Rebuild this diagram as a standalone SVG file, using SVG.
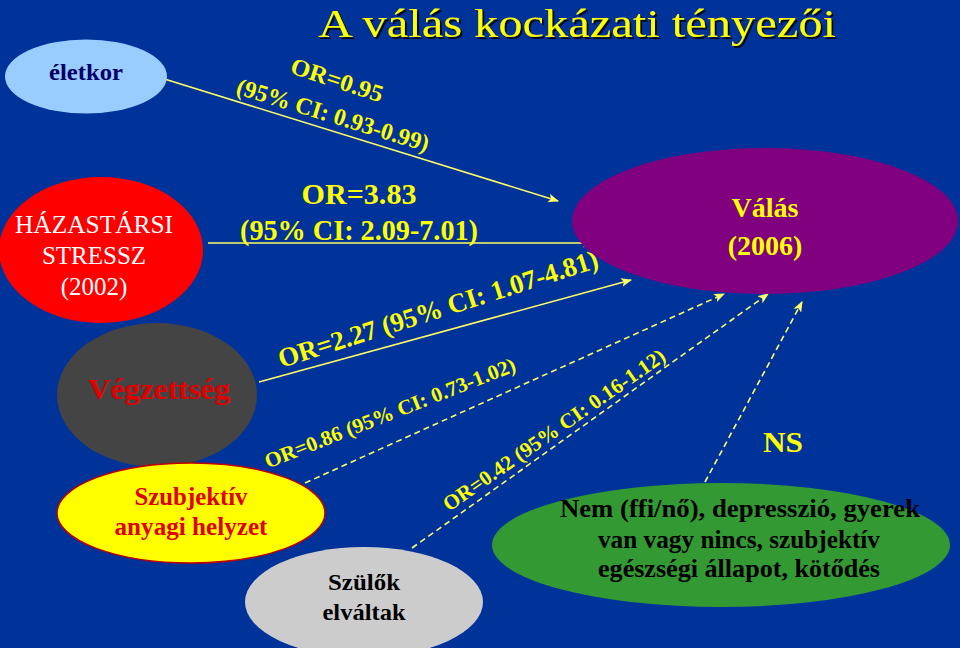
<svg xmlns="http://www.w3.org/2000/svg" width="960" height="648" viewBox="0 0 960 648" font-family="'Liberation Serif','Times New Roman','DejaVu Serif',serif">
<defs>
<marker id="arr" viewBox="0 0 10 8" refX="9" refY="4" markerWidth="11" markerHeight="9" markerUnits="userSpaceOnUse" orient="auto">
<path d="M0,0 L10,4 L0,8 L2.5,4 Z" fill="#FFFF66"/>
</marker>
<filter id="sh" x="-5%" y="-20%" width="110%" height="140%">
<feDropShadow dx="2" dy="2" stdDeviation="0.6" flood-color="#000000" flood-opacity="0.8"/>
</filter>
</defs>
<style>
.t{font-family:"Liberation Serif","Times New Roman","DejaVu Serif",serif}
.b{font-weight:bold}
.y{fill:#FFFF00}
.ln{stroke:#FFFF66;stroke-width:1.6;fill:none;marker-end:url(#arr)}
.d{stroke-dasharray:6 4}
</style>
<rect width="960" height="648" fill="#003399"/>
<text class="t y" x="577" y="37" font-size="41" text-anchor="middle" textLength="518" lengthAdjust="spacingAndGlyphs" filter="url(#sh)">A válás kockázati tényezői</text>

<g id="connectors">
<line class="ln" x1="158" y1="77" x2="558" y2="201"/>
<line class="ln" x1="208" y1="243" x2="593" y2="243"/>
<line class="ln" x1="259" y1="382" x2="631" y2="280"/>
<line class="ln d" x1="305" y1="483" x2="724" y2="294"/>
<line class="ln d" x1="412" y1="548" x2="768" y2="294"/>
<line class="ln d" x1="705" y1="482" x2="802" y2="302"/>
</g>

<g id="labels">
<g transform="translate(337,80) rotate(18)"><text class="t b y" x="0" y="8" font-size="24" text-anchor="middle" textLength="96" lengthAdjust="spacingAndGlyphs">OR=0.95</text></g>
<g transform="translate(333,115) rotate(17)"><text class="t b y" x="0" y="8" font-size="24" text-anchor="middle" textLength="200" lengthAdjust="spacingAndGlyphs">(95% CI: 0.93-0.99)</text></g>
<text class="t b y" x="359" y="204" font-size="30" text-anchor="middle" textLength="115" lengthAdjust="spacingAndGlyphs">OR=3.83</text>
<text class="t b y" x="359" y="240" font-size="30" text-anchor="middle" textLength="238" lengthAdjust="spacingAndGlyphs">(95% CI: 2.09-7.01)</text>
<g transform="translate(438,309) rotate(-17.6)"><text class="t b y" x="0" y="9" font-size="27" text-anchor="middle" textLength="334" lengthAdjust="spacingAndGlyphs">OR=2.27  (95% CI: 1.07-4.81)</text></g>
<g transform="translate(390,413) rotate(-21.5)"><text class="t b y" x="0" y="7" font-size="21" text-anchor="middle" textLength="268" lengthAdjust="spacingAndGlyphs">OR=0.86 (95% CI: 0.73-1.02)</text></g>
<g transform="translate(554,430) rotate(-35)"><text class="t b y" x="0" y="7" font-size="21" text-anchor="middle" textLength="266" lengthAdjust="spacingAndGlyphs">OR=0.42 (95% CI: 0.16-1.12)</text></g>
<text class="t b y" x="783" y="452" font-size="30" text-anchor="middle" textLength="40" lengthAdjust="spacingAndGlyphs">NS</text>
</g>

<g id="eletkor">
<ellipse cx="86" cy="76.5" rx="81" ry="37" fill="#99CCFF"/>
<text class="t b" x="86" y="80" font-size="23" fill="#000066" text-anchor="middle" textLength="74" lengthAdjust="spacingAndGlyphs">életkor</text>
</g>

<g id="hazastarsi">
<ellipse cx="101" cy="250" rx="102" ry="73" fill="#FF0000"/>
<text class="t" x="94" y="233" font-size="25" fill="#FFFFFF" text-anchor="middle" textLength="158" lengthAdjust="spacingAndGlyphs">HÁZASTÁRSI</text>
<text class="t" x="94" y="264" font-size="25" fill="#FFFFFF" text-anchor="middle">STRESSZ</text>
<text class="t" x="94" y="295" font-size="25" fill="#FFFFFF" text-anchor="middle">(2002)</text>
</g>

<g id="vegzettseg">
<ellipse cx="157" cy="395" rx="100" ry="72" fill="#444444"/>
<text class="t b" x="159" y="399" font-size="30" fill="#E00000" text-anchor="middle" textLength="142" lengthAdjust="spacingAndGlyphs">Végzettség</text>
</g>

<g id="szubjektiv">
<ellipse cx="191" cy="513" rx="134" ry="50" fill="#FFFF00" stroke="#C00000" stroke-width="1.5"/>
<text class="t b" x="191" y="505" font-size="25" fill="#E00000" text-anchor="middle" textLength="113" lengthAdjust="spacingAndGlyphs">Szubjektív</text>
<text class="t b" x="191" y="535" font-size="25" fill="#E00000" text-anchor="middle" textLength="153" lengthAdjust="spacingAndGlyphs">anyagi helyzet</text>
</g>

<g id="szulok">
<ellipse cx="364" cy="602" rx="119" ry="55" fill="#CCCCCC"/>
<text class="t b" x="364" y="590" font-size="24" fill="#000000" text-anchor="middle" textLength="72" lengthAdjust="spacingAndGlyphs">Szülők</text>
<text class="t b" x="364" y="620" font-size="24" fill="#000000" text-anchor="middle" textLength="83" lengthAdjust="spacingAndGlyphs">elváltak</text>
</g>

<g id="valas">
<ellipse cx="765" cy="221" rx="193" ry="73" fill="#800080"/>
<text class="t b" x="765" y="217" font-size="28" fill="#FFFF00" text-anchor="middle" textLength="67" lengthAdjust="spacingAndGlyphs">Válás</text>
<text class="t b" x="765" y="255" font-size="28" fill="#FFFF00" text-anchor="middle">(2006)</text>
</g>

<g id="egyeb">
<ellipse cx="721" cy="545" rx="229" ry="62" fill="#339933"/>
<text class="t b" x="740" y="517" font-size="25" fill="#000000" text-anchor="middle" textLength="360" lengthAdjust="spacingAndGlyphs">Nem (ffi/nő), depresszió, gyerek</text>
<text class="t b" x="739" y="548" font-size="25" fill="#000000" text-anchor="middle" textLength="282" lengthAdjust="spacingAndGlyphs">van vagy nincs, szubjektív</text>
<text class="t b" x="739" y="577" font-size="25" fill="#000000" text-anchor="middle" textLength="282" lengthAdjust="spacingAndGlyphs">egészségi állapot, kötődés</text>
</g>
</svg>
